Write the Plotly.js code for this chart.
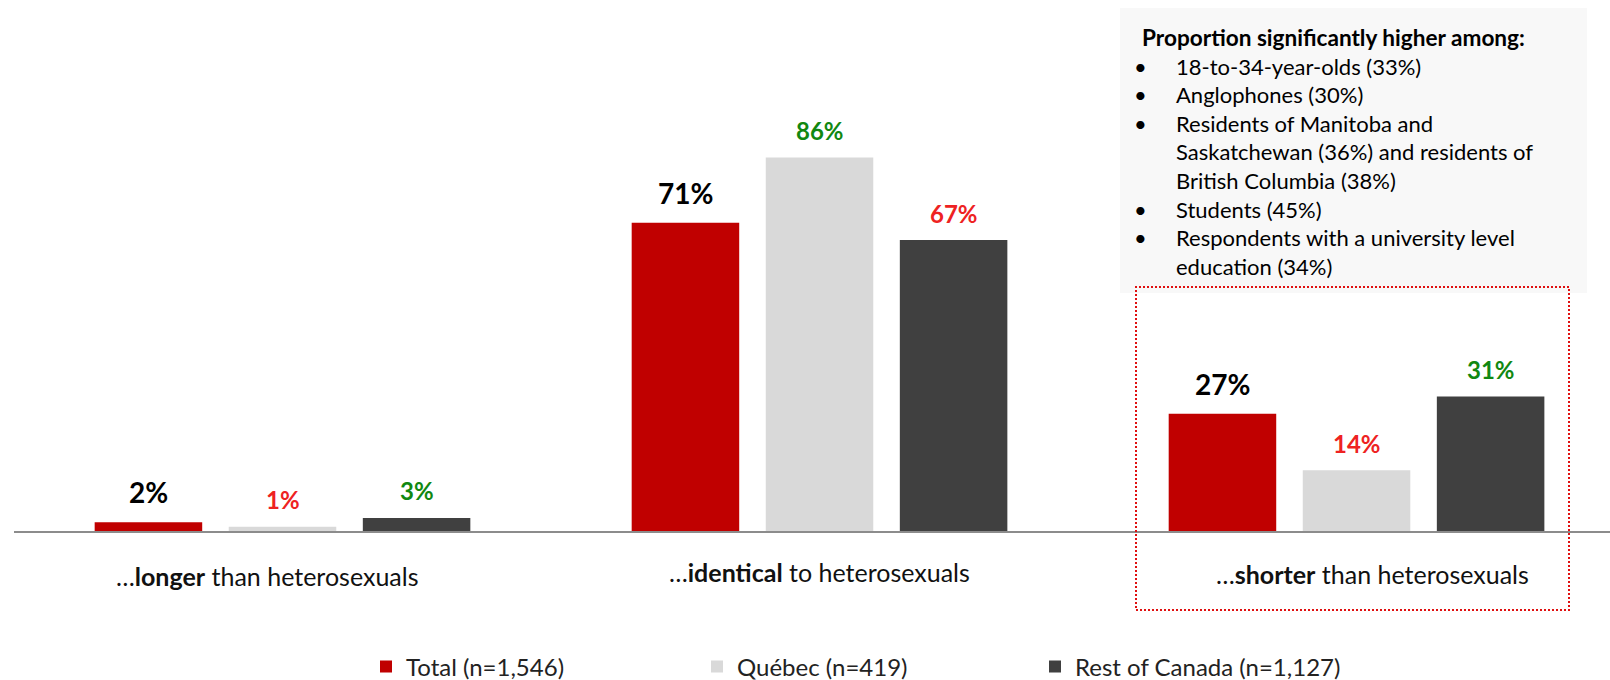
<!DOCTYPE html>
<html>
<head>
<meta charset="utf-8">
<script src="https://cdn.plot.ly/plotly-3.0.1.min.js"></script>
<style>html,body{margin:0;padding:0;background:#fff;}#chart{width:1610px;height:680px;}</style>
</head>
<body>
<div id="chart"></div>
<script>
// ---- data ----
const categories = ['longer', 'identical', 'shorter'];
const categoryLabels = ['…<b>longer</b> than heterosexuals', '…<b>identical</b> to heterosexuals', '…<b>shorter</b> than heterosexuals'];
const seriesNames = ['Total (n=1,546)', 'Québec (n=419)', 'Rest of Canada (n=1,127)'];
const totalValues = [2, 71, 27];
const quebecValues = [1, 86, 14];
const rocValues = [3, 67, 31];
// significance vs. total
const quebecSig = ['lower', 'higher', 'lower'];
const rocSig = ['higher', 'lower', 'higher'];
const noteTitle = 'Proportion significantly higher among:';
const noteItems = [
  ['18-to-34-year-olds (33%)'],
  ['Anglophones (30%)'],
  ['Residents of Manitoba and', 'Saskatchewan (36%) and residents of', 'British Columbia (38%)'],
  ['Students (45%)'],
  ['Respondents with a university level', 'education (34%)']
];

// ---- layout constants ----
const W = 1610, H = 680;
const M = {l: 14, r: 0, t: 10, b: 149, autoexpand: false};
const plotW = W - M.l - M.r, plotH = H - M.t - M.b;
const xRange = [-0.5, 2.472];
const yRange = [0, 120];
const bargap = 0.251;
const px2x = p => (p - M.l) / plotW;
const px2y = p => (H - M.b - p) / plotH;
const catW = plotW / (xRange[1] - xRange[0]);
const slot = catW * (1 - bargap) / 3;

const colors = ['#c00000', '#d9d9d9', '#404040'];
const sigColor = {higher: '#118811', lower: '#ee2222'};
const FONT = 'Lato, "Open Sans", sans-serif';

const allValues = [totalValues, quebecValues, rocValues];
const traces = allValues.map((vals, i) => ({
  type: 'bar',
  x: categories,
  y: vals,
  name: seriesNames[i],
  marker: {color: colors[i]},
  legend: i === 0 ? 'legend' : 'legend' + (i + 1),
  hoverinfo: 'skip'
}));

const annotations = [];
// value labels
allValues.forEach((vals, i) => {
  vals.forEach((v, j) => {
    let color = '#000', size = 28, ys = 30;
    if (i === 1) { color = sigColor[quebecSig[j]]; size = 24; ys = 27; }
    if (i === 2) { color = sigColor[rocSig[j]]; size = 24; ys = 27; }
    annotations.push({
      x: categories[j], y: v, xref: 'x', yref: 'y',
      text: '<b>' + v + '%</b>', showarrow: false,
      xshift: (i - 1) * slot, yshift: ys, yanchor: 'middle',
      font: {family: FONT, size: size, color: color}
    });
  });
});
// category labels
const catShiftX = [-15, 0, 16];
const catShiftY = [-45, -41, -43];
categories.forEach((c, j) => {
  annotations.push({
    x: c, y: 0, xref: 'x', yref: 'y', text: categoryLabels[j], showarrow: false,
    xshift: catShiftX[j], yshift: catShiftY[j], yanchor: 'middle',
    font: {family: FONT, size: 25, color: '#111'}
  });
});
// note box text
const bulletLines = ['\u00a0'];
const textLines = ['\u00a0'];
noteItems.forEach(item => {
  item.forEach((line, k) => {
    bulletLines.push(k === 0 ? '•' : '\u00a0');
    textLines.push(line);
  });
});
const noteTop = 22;
annotations.push({
  xref: 'paper', yref: 'paper', x: px2x(1140), y: px2y(noteTop), xanchor: 'left', yanchor: 'top',
  text: '<b>' + noteTitle + '</b>', showarrow: false, align: 'left',
  font: {family: FONT, size: 22.6, color: '#000'}
});
annotations.push({
  xref: 'paper', yref: 'paper', x: px2x(1132), y: px2y(noteTop), xanchor: 'left', yanchor: 'top',
  text: bulletLines.join('<br>'), showarrow: false, align: 'left',
  font: {family: FONT, size: 22, color: '#000'}
});
annotations.push({
  xref: 'paper', yref: 'paper', x: px2x(1174), y: px2y(noteTop), xanchor: 'left', yanchor: 'top',
  text: textLines.join('<br>'), showarrow: false, align: 'left',
  font: {family: FONT, size: 22, color: '#000'}
});

const shapes = [
  {type: 'rect', xref: 'paper', yref: 'paper', x0: px2x(1120), x1: px2x(1587), y0: px2y(293), y1: px2y(8),
   fillcolor: '#f8f8f8', line: {width: 0}, layer: 'below'},
  {type: 'rect', xref: 'paper', yref: 'paper', x0: px2x(1136), x1: px2x(1569), y0: px2y(610), y1: px2y(287),
   fillcolor: 'rgba(0,0,0,0)', line: {color: '#e01010', width: 2, dash: '2px,2px'}, layer: 'above'}
];

const legendBase = {
  orientation: 'h', xref: 'paper', yref: 'paper', yanchor: 'middle', xanchor: 'left',
  y: px2y(667), bgcolor: 'rgba(0,0,0,0)',
  font: {family: FONT, size: 24, color: '#222'}
};
const layout = {
  width: W, height: H, margin: M,
  paper_bgcolor: '#fff', plot_bgcolor: 'rgba(0,0,0,0)',
  barmode: 'group', bargap: bargap, bargroupgap: 0.198,
  showlegend: true,
  legend: Object.assign({}, legendBase, {x: px2x(366)}),
  legend2: Object.assign({}, legendBase, {x: px2x(697)}),
  legend3: Object.assign({}, legendBase, {x: px2x(1035)}),
  xaxis: {range: xRange, showticklabels: false, ticks: '', showgrid: false, zeroline: false,
          showline: true, linecolor: '#8c8c8c', linewidth: 2, fixedrange: true},
  yaxis: {range: yRange, visible: false, showgrid: false, zeroline: false, fixedrange: true},
  annotations: annotations,
  shapes: shapes
};
Plotly.newPlot('chart', traces, layout, {displayModeBar: false, staticPlot: true});
</script>
</body>
</html>
